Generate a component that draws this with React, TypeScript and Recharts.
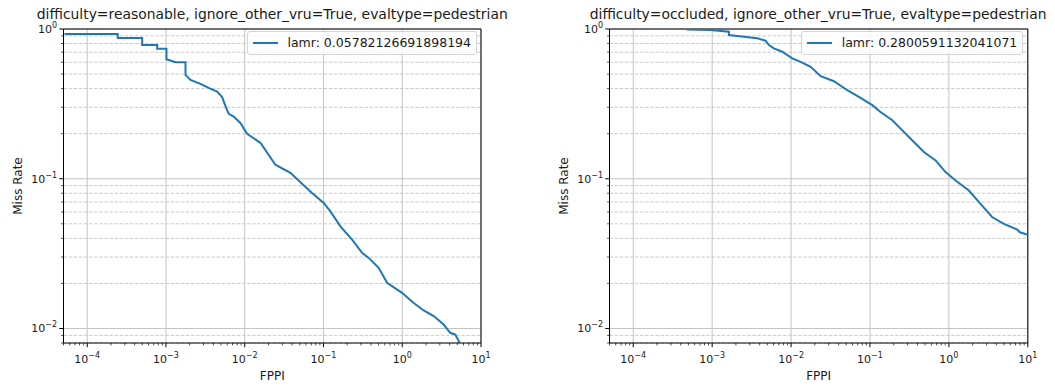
import React from 'react';
import { LineChart, Line, XAxis, YAxis, ReferenceLine, Legend } from 'recharts';

// two MR-FPPI curves (log/log), matplotlib look

const reasonableFppi = [
  5.15e-5, 2.44e-4, 2.44e-4, 4.99e-4, 4.99e-4, 7.73e-4, 7.73e-4, 1.014e-3, 1.014e-3, 1.32e-3,
  1.77e-3, 1.77e-3, 2.05e-3, 2.74e-3, 3.47e-3, 4.47e-3, 5.16e-3, 5.81e-3, 6.27e-3, 7.24e-3,
  8.81e-3, 1.07e-2, 1.58e-2, 2.45e-2, 3.8e-2, 6.81e-2, 0.1006, 0.1225, 0.164, 0.231,
  0.309, 0.375, 0.502, 0.642, 0.994, 1.4, 1.87, 2.51, 3.35, 4.07, 4.72, 5.35,
];
const reasonableMr = [
  0.926, 0.926, 0.871, 0.871, 0.782, 0.782, 0.739, 0.739, 0.628, 0.6,
  0.6, 0.494, 0.457, 0.43, 0.404, 0.382, 0.351, 0.297, 0.271, 0.26,
  0.236, 0.1995, 0.1738, 0.124, 0.1096, 0.0823, 0.0689, 0.0605, 0.0481, 0.0392,
  0.032, 0.0296, 0.0254, 0.0202, 0.0173, 0.0148, 0.0132, 0.0121, 0.01063, 0.00936, 0.00912, 0.00803,
];

const occludedFppi = [
  4.74e-4, 9.55e-4, 1.63e-3, 1.63e-3, 2.52e-3, 3.73e-3, 4.75e-3, 5.23e-3, 6.05e-3, 7.73e-3,
  1.036e-2, 1.32e-2, 1.77e-2, 2.37e-2, 3.49e-2, 5.16e-2, 7.23e-2, 0.107, 0.136, 0.1917,
  0.244, 0.36, 0.482, 0.678, 0.908, 1.216, 1.79, 2.52, 3.55, 4.98, 7.36, 7.94, 10.0,
];
const occludedMr = [
  0.992, 0.985, 0.959, 0.912, 0.888, 0.866, 0.835, 0.781, 0.742, 0.705,
  0.636, 0.604, 0.559, 0.484, 0.448, 0.39, 0.352, 0.31, 0.279, 0.246,
  0.216, 0.176, 0.1508, 0.1326, 0.1107, 0.0974, 0.0835, 0.068, 0.0553, 0.0499, 0.0457, 0.0439, 0.0423,
];

const X_DOMAIN: [number, number] = [5e-5, 10];
const Y_DOMAIN: [number, number] = [0.008, 1];

const xMajorTicks = [1e-4, 1e-3, 1e-2, 1e-1, 1, 10];
const yMajorTicks = [1e-2, 1e-1, 1];

function minorTicks(domain: [number, number]) {
  const out: number[] = [];
  for (let e = Math.floor(Math.log10(domain[0])); e < Math.ceil(Math.log10(domain[1])); e++) {
    for (let m = 2; m <= 9; m++) {
      const v = +(m * Math.pow(10, e)).toPrecision(3);
      if (v >= domain[0] && v <= domain[1]) out.push(v);
    }
  }
  return out;
}
const xMinorTicks = minorTicks(X_DOMAIN);
const yMinorTicks = minorTicks(Y_DOMAIN);

const BLUE = '#1f77b4';
const GRID = '#c4c4c4';
const FONT = '"DejaVu Sans", sans-serif';
const TXT = '#1a1a1a';

const H = 385;
const TOP = 29;
const AXIS_H = 42;
const Y_AXIS_W = 63.5;

function isMajor(v: number) {
  const l = Math.log10(v);
  return Math.abs(l - Math.round(l)) < 1e-6;
}

function Pow10({ v }: { v: number }) {
  const e = Math.round(Math.log10(v));
  const exp = e < 0 ? `\u2212${-e}` : `${e}`;
  return (
    <>
      <tspan>10</tspan>
      <tspan dy={-5} fontSize={8}>{exp}</tspan>
    </>
  );
}

function XTick(props: any) {
  const { x, y, payload } = props;
  const major = isMajor(payload.value);
  return (
    <g>
      <line x1={x} x2={x} y1={y} y2={y + (major ? 4.2 : 2.4)} stroke="#000" strokeWidth={major ? 1 : 0.7} />
      {major && (
        <text x={x} y={y + 20} textAnchor="middle" fontSize={11} fontFamily={FONT} fill={TXT}>
          <Pow10 v={payload.value} />
        </text>
      )}
    </g>
  );
}

function YTick(props: any) {
  const { x, y, payload } = props;
  const major = isMajor(payload.value);
  return (
    <g>
      <line x1={x} x2={x - (major ? 4.2 : 2.4)} y1={y} y2={y} stroke="#000" strokeWidth={major ? 1 : 0.7} />
      {major && (
        <text x={x - 6.5} y={y + 4} textAnchor="end" fontSize={11} fontFamily={FONT} fill={TXT}>
          <Pow10 v={payload.value} />
        </text>
      )}
    </g>
  );
}

function YTitle(props: any) {
  const vb = props.viewBox || { x: 0, y: TOP, height: H - TOP - AXIS_H };
  const cx = vb.x + 18;
  const cy = vb.y + vb.height / 2;
  return (
    <text x={cx} y={cy} transform={`rotate(-90 ${cx} ${cy})`} textAnchor="middle" dominantBaseline="central"
      fontSize={12} fontFamily={FONT} fill={TXT}>
      Miss Rate
    </text>
  );
}

function LegendBox({ label }: { label: string }) {
  return (
    <div style={{
      display: 'flex', alignItems: 'center', background: 'rgba(255,255,255,0.8)',
      border: '1px solid #d4d4d4', borderRadius: 3, padding: '3px 5px 3px 5px',
      fontFamily: FONT, fontSize: 12.5, lineHeight: '16px', color: TXT, whiteSpace: 'nowrap',
    }}>
      <span style={{ display: 'inline-block', width: 25, height: 2, background: BLUE, marginRight: 9.5 }} />
      {label}
    </div>
  );
}

function Panel({ title, lamr, fppi, mr, left, width, marginRight }: {
  title: string; lamr: string; fppi: number[]; mr: number[]; left: number; width: number; marginRight: number;
}) {
  const rows = fppi.map((f, i) => ({ fppi: f, mr: mr[i] }));
  const plotW = width - Y_AXIS_W - marginRight;
  return (
    <div style={{ position: 'absolute', left, top: 0, width, height: H }}>
      <div style={{
        position: 'absolute', left: Y_AXIS_W + plotW / 2, top: 5.5, transform: 'translateX(-50%)',
        fontFamily: FONT, fontSize: 13.9, lineHeight: '16px', color: TXT, whiteSpace: 'nowrap',
      }}>
        {title}
      </div>
      <LineChart width={width} height={H} data={rows} margin={{ top: TOP, right: marginRight, bottom: 0, left: 0 }}>
        {xMajorTicks.map(v => (
          <ReferenceLine key={`gx${v}`} x={v} stroke={GRID} strokeWidth={1} />
        ))}
        {yMinorTicks.map(v => (
          <ReferenceLine key={`gy${v}`} y={v} stroke={GRID} strokeWidth={0.9} strokeDasharray="3.5 1.6" />
        ))}
        {yMajorTicks.map(v => (
          <ReferenceLine key={`gY${v}`} y={v} stroke={GRID} strokeWidth={1} />
        ))}
        <XAxis
          dataKey="fppi"
          type="number"
          scale="log"
          domain={X_DOMAIN}
          allowDataOverflow
          ticks={[...xMajorTicks, ...xMinorTicks]}
          interval={0}
          tick={(p: any) => <XTick {...p} />}
          tickLine={false}
          tickSize={0}
          tickMargin={0}
          height={AXIS_H}
          axisLine={{ stroke: '#000', strokeWidth: 1 }}
          label={{ value: 'FPPI', position: 'insideBottom', offset: 5, fontSize: 12, fontFamily: FONT, fill: TXT }}
        />
        <YAxis
          type="number"
          scale="log"
          domain={Y_DOMAIN}
          allowDataOverflow
          ticks={[...yMajorTicks, ...yMinorTicks]}
          interval={0}
          tick={(p: any) => <YTick {...p} />}
          tickLine={false}
          tickSize={0}
          tickMargin={0}
          width={Y_AXIS_W}
          axisLine={{ stroke: '#000', strokeWidth: 1 }}
          label={<YTitle />}
        />
        <ReferenceLine x={X_DOMAIN[1]} stroke="#000" strokeWidth={1} ifOverflow="visible" />
        <ReferenceLine y={Y_DOMAIN[1]} stroke="#000" strokeWidth={1} ifOverflow="visible" />
        <Line
          type="linear"
          dataKey="mr"
          stroke={BLUE}
          strokeWidth={2}
          dot={false}
          activeDot={false}
          isAnimationActive={false}
        />
        <Legend
          layout="vertical"
          align="center"
          verticalAlign="middle"
          wrapperStyle={{ top: 31, right: marginRight + 4, width: 'auto', height: 'auto' }}
          content={() => <LegendBox label={lamr} />}
        />
      </LineChart>
    </div>
  );
}

export default function App() {
  return (
    <div style={{ position: 'absolute', left: 0, top: 0, width: 1055, height: H, background: '#fff', overflow: 'hidden' }}>
      <Panel
        title="difficulty=reasonable, ignore_other_vru=True, evaltype=pedestrian"
        lamr="lamr: 0.05782126691898194"
        fppi={reasonableFppi}
        mr={reasonableMr}
        left={0}
        width={527}
        marginRight={46}
      />
      <Panel
        title="difficulty=occluded, ignore_other_vru=True, evaltype=pedestrian"
        lamr="lamr: 0.2800591132041071"
        fppi={occludedFppi}
        mr={occludedMr}
        left={545.5}
        width={509.5}
        marginRight={27.7}
      />
    </div>
  );
}
